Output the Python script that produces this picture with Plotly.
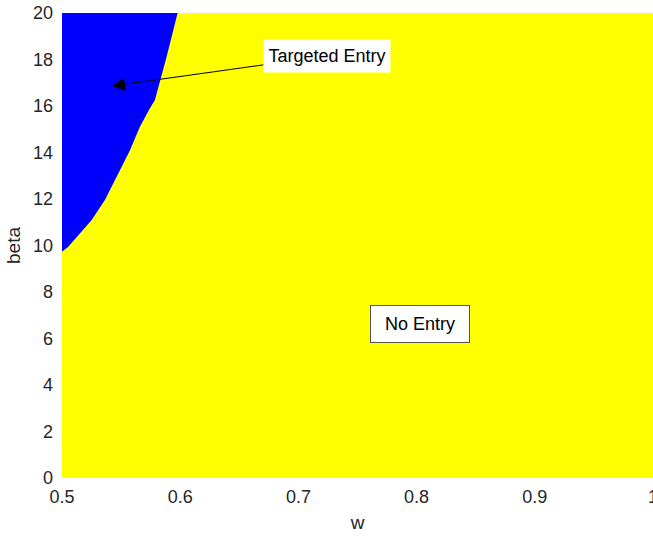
import plotly.graph_objects as go

# Region data
boundary_w = [0.5, 0.5053, 0.5251, 0.5363, 0.5575, 0.5659, 0.5744, 0.5786, 0.5885, 0.5978]
boundary_beta = [9.73, 9.95, 11.1, 11.96, 14.1, 15.11, 15.9, 16.26, 18.12, 20.0]
w_range = [0.5, 1.0]
beta_range = [0, 20]
x_ticks = [0.5, 0.6, 0.7, 0.8, 0.9, 1.0]
x_tick_labels = ["0.5", "0.6", "0.7", "0.8", "0.9", "1"]
y_ticks = [0, 2, 4, 6, 8, 10, 12, 14, 16, 18, 20]

fig = go.Figure()

# Yellow "No Entry" region (whole domain)
fig.add_trace(go.Scatter(
    x=[w_range[0], w_range[1], w_range[1], w_range[0], w_range[0]],
    y=[beta_range[0], beta_range[0], beta_range[1], beta_range[1], beta_range[0]],
    fill="toself", fillcolor="#ffff00", mode="none", hoverinfo="skip", showlegend=False))

# Blue "Targeted Entry" region
bx = boundary_w + [w_range[0], w_range[0]]
by = boundary_beta + [beta_range[1], boundary_beta[0]]
fig.add_trace(go.Scatter(x=bx, y=by, fill="toself", fillcolor="#0000ff",
                         mode="none", hoverinfo="skip", showlegend=False))

fam = "Liberation Sans, Arial, sans-serif"
font = dict(family=fam, size=18, color="#262626")

fig.add_annotation(x=0.5423, y=16.86, ax=0.724, ay=18.15, xref="x", yref="y",
                   axref="x", ayref="y", text="Targeted Entry", showarrow=True,
                   arrowhead=2, arrowsize=2.6, arrowwidth=1, arrowcolor="#000000",
                   bgcolor="#ffffff", width=124, height=30, borderpad=1,
                   font=dict(family=fam, size=18, color="#000000"))
fig.add_annotation(x=0.8026, y=6.62, xref="x", yref="y", text="No Entry", showarrow=False,
                   bgcolor="#ffffff", bordercolor="#555555", borderwidth=1, borderpad=1,
                   width=96, height=34, align="center",
                   font=dict(family=fam, size=18, color="#000000"))

fig.update_layout(
    width=653, height=538,
    margin=dict(l=62, r=0, t=13, b=60),
    paper_bgcolor="#ffffff", plot_bgcolor="#ffffff",
    font=font,
    xaxis=dict(range=w_range, tickvals=x_ticks, ticktext=x_tick_labels, showgrid=False,
               zeroline=False, showline=False, automargin=False,
               title=dict(text="w", standoff=9, font=dict(size=19)),
               tickfont=dict(size=18, color="#262626"), ticks="", ticklabelstandoff=6,
               ticklabeloverflow="allow"),
    yaxis=dict(range=beta_range, tickvals=y_ticks, showgrid=False, zeroline=False,
               showline=False, automargin=False,
               title=dict(text="beta", standoff=7, font=dict(size=19)),
               tickfont=dict(size=18, color="#262626"), ticks="", ticklabelstandoff=8,
               ticklabeloverflow="allow"),
)

fig.write_html("out.html", config={"displayModeBar": False},
               post_script="document.body.style.margin='0';document.body.style.overflow='hidden';")
